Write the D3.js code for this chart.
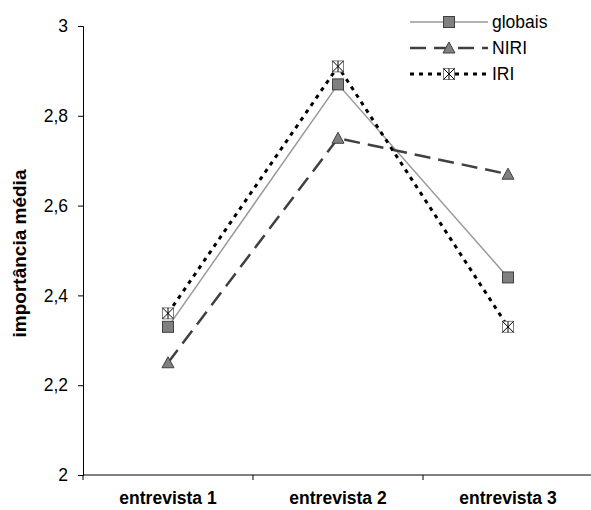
<!DOCTYPE html>
<html>
<head>
<meta charset="utf-8">
<script src="https://cdn.jsdelivr.net/npm/d3@7"></script>
<style>
  body { margin: 0; background: #fff; }
  text { font-family: "Liberation Sans", Arial, sans-serif; }
</style>
</head>
<body>
<div id="chart"></div>
<script>
const categories = ["entrevista 1", "entrevista 2", "entrevista 3"];
const globais = [2.33, 2.87, 2.44];
const niri = [2.25, 2.75, 2.67];
const iri = [2.36, 2.91, 2.33];
const yTicks = [2, 2.2, 2.4, 2.6, 2.8, 3];

const width = 591, height = 510;
const margin = {top: 26, right: 0, bottom: 35, left: 83};

const svg = d3.select("#chart").append("svg")
  .attr("width", width).attr("height", height);

const x = d3.scaleBand().domain(categories)
  .range([margin.left, 593]);
const y = d3.scaleLinear().domain([2, 3])
  .range([height - margin.bottom, margin.top]);

const fmt = d => String(d).replace(".", ",");

// axes
const yAxis = svg.append("g")
  .attr("transform", `translate(${margin.left},0)`)
  .call(d3.axisLeft(y).tickValues(yTicks).tickFormat(fmt).tickSize(5).tickPadding(10));
yAxis.selectAll("text").attr("font-size", 17.5).attr("fill", "#000");

const xAxis = svg.append("g")
  .attr("transform", `translate(0,${y(2)})`)
  .call(d3.axisBottom(x).tickSize(0).tickPadding(17));
xAxis.selectAll("text").attr("font-size", 17.5).attr("font-weight", "bold").attr("fill", "#000");

// x ticks between categories
const bounds = [margin.left].concat(categories.map(c => x(c) + x.bandwidth()));
svg.append("g").selectAll("line").data(bounds).join("line")
  .attr("x1", d => d).attr("x2", d => d)
  .attr("y1", y(2)).attr("y2", y(2) + 5)
  .attr("stroke", "#000");

svg.selectAll(".domain, .tick line").attr("stroke", "#000");
xAxis.select(".domain").attr("d", `M${margin.left},0H${width}`);

svg.append("text")
  .attr("transform", `translate(26,${(y(2) + y(3)) / 2 + 3}) rotate(-90)`)
  .attr("text-anchor", "middle")
  .attr("font-size", 19).attr("font-weight", "bold")
  .text("importância média");

const cx = c => x(c) + x.bandwidth() / 2;

const series = [
  {name: "globais", values: globais, stroke: "#999", width: 1.5, dash: null, marker: "square"},
  {name: "NIRI", values: niri, stroke: "#404040", width: 2.5, dash: "16,8", marker: "triangle"},
  {name: "IRI", values: iri, stroke: "#000", width: 3, dash: "4,5", marker: "xbox"}
];

const line = d3.line().x((d, i) => cx(categories[i])).y(d => y(d));

function drawMarker(g, type, px, py) {
  const s = 5.5;
  if (type === "square") {
    g.append("rect").attr("x", px - s).attr("y", py - s).attr("width", 2 * s).attr("height", 2 * s)
      .attr("fill", "#808080").attr("stroke", "#404040").attr("stroke-width", 1);
  } else if (type === "triangle") {
    g.append("path").attr("d", `M${px},${py - 6}L${px + 6},${py + 5}L${px - 6},${py + 5}Z`)
      .attr("fill", "#808080").attr("stroke", "#404040").attr("stroke-width", 1);
  } else {
    g.append("rect").attr("x", px - s).attr("y", py - s).attr("width", 2 * s).attr("height", 2 * s)
      .attr("fill", "#fff").attr("stroke", "#808080").attr("stroke-width", 1);
    g.append("path")
      .attr("d", `M${px - s},${py - s}L${px + s},${py + s}M${px + s},${py - s}L${px - s},${py + s}M${px},${py - s}V${py + s}`)
      .attr("stroke", "#000").attr("stroke-width", 1);
  }
}

series.forEach(sr => {
  svg.append("path").datum(sr.values).attr("d", line)
    .attr("fill", "none").attr("stroke", sr.stroke)
    .attr("stroke-width", sr.width).attr("stroke-dasharray", sr.dash);
});
series.forEach(sr => {
  const g = svg.append("g");
  sr.values.forEach((v, i) => drawMarker(g, sr.marker, cx(categories[i]), y(v)));
});

// legend
const lg = svg.append("g");
series.forEach((sr, i) => {
  const ly = 22 + i * 26;
  lg.append("line").attr("x1", 410).attr("x2", 488).attr("y1", ly).attr("y2", ly)
    .attr("stroke", sr.stroke).attr("stroke-width", sr.width).attr("stroke-dasharray", sr.dash);
  drawMarker(lg, sr.marker, 449, ly);
  lg.append("text").attr("x", 492).attr("y", ly + 6).attr("font-size", 17.5).text(sr.name);
});
</script>
</body>
</html>
